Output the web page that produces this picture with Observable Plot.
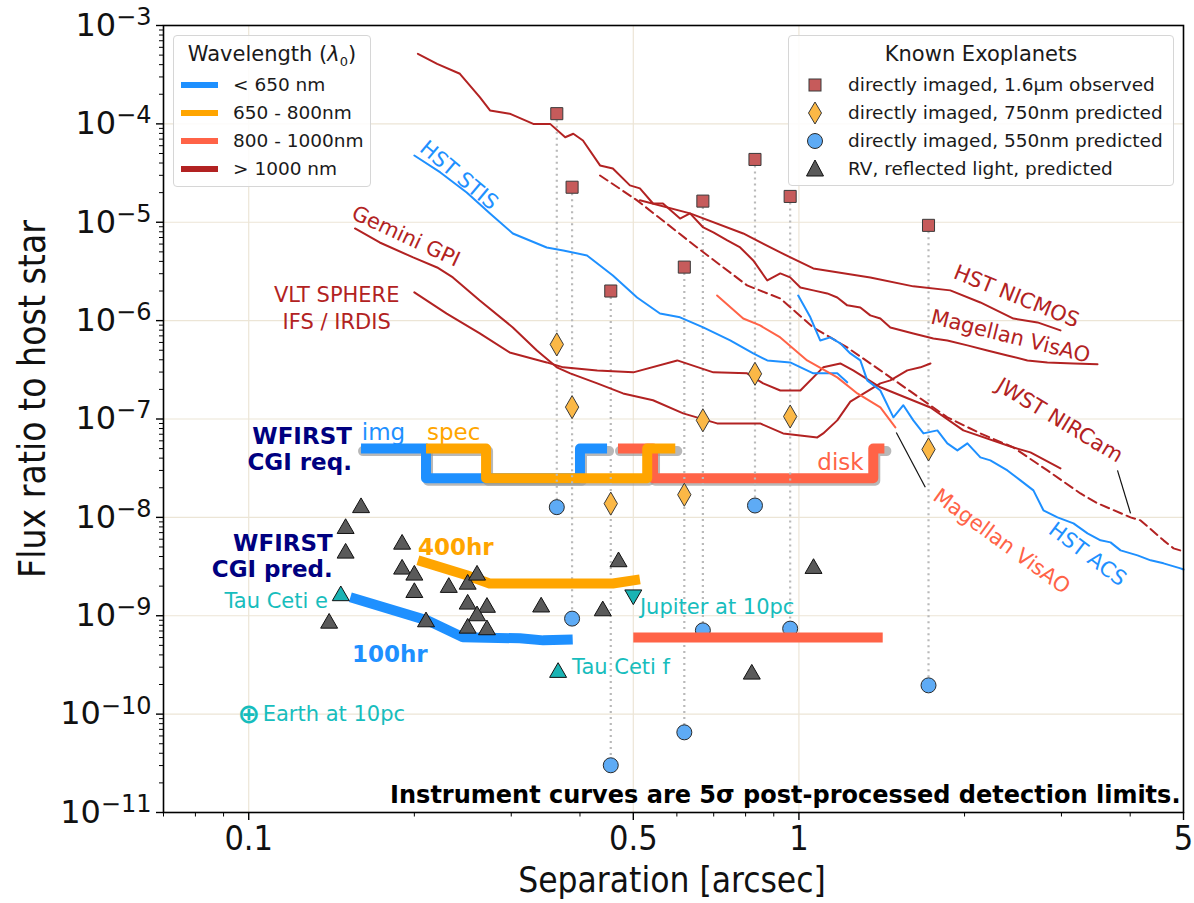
<!DOCTYPE html>
<html><head><meta charset="utf-8">
<script src="https://cdn.jsdelivr.net/npm/d3@7"></script>
<script src="https://cdn.jsdelivr.net/npm/@observablehq/plot@0.6"></script>
<style>
body{margin:0;background:#fff;}
#wrap{position:relative;width:1194px;height:903px;font-family:"DejaVu Sans",sans-serif;overflow:hidden;}
#chart{position:absolute;left:0;top:0;}
.cond{font-family:"DejaVu Sans Condensed","DejaVu Sans",sans-serif;font-stretch:condensed;}
g[aria-label="x-axis tick label"] text{font-family:"DejaVu Sans Condensed","DejaVu Sans",sans-serif;font-stretch:condensed;}
.leg{position:absolute;border:1px solid #d6d6d6;border-radius:4px;background:rgba(255,255,255,0.85);box-sizing:border-box;}
.row{position:absolute;height:28px;line-height:28px;font-size:18.5px;color:#1a1a1a;white-space:nowrap;}
.ttl{position:absolute;left:0;right:0;text-align:center;font-size:21px;color:#1a1a1a;line-height:24px;}
.axt{position:absolute;color:#111;white-space:nowrap;}
</style>
</head><body>
<div id="wrap">
  <div id="chart"></div>
  <div id="leg1" class="leg" style="left:173px;top:35px;width:198px;height:152px">
    <div class="ttl" style="top:6px">Wavelength (<i>λ</i><sub style="font-size:13px">0</sub>)</div>
  </div>
  <div id="leg2" class="leg" style="left:788px;top:35px;width:386px;height:151px">
    <div class="ttl" style="top:6px">Known Exoplanets</div>
  </div>
  <div class="axt cond" style="font-size:37px;left:32px;top:399px;transform:translate(-50%,-50%) rotate(-90deg)">Flux ratio to host star</div>
  <div class="axt cond" style="font-size:35px;left:672px;top:880px;transform:translate(-50%,-50%)">Separation [arcsec]</div>
</div>
<script>
// ---------- tick values ----------
const xMajor = [0.1, 0.5, 1, 5];
const xMinor = [0.07, 0.08, 0.09, 0.2, 0.3, 0.4, 0.6, 0.7, 0.8, 0.9, 2, 3, 4];
const yMajor = [1e-11, 1e-10, 1e-9, 1e-8, 1e-7, 1e-6, 1e-5, 1e-4, 1e-3];

// ---------- legend entries ----------
const wlLabels = ["< 650 nm", "650 - 800nm", "800 - 1000nm", "> 1000 nm"];
const wlColors = ["#1E90FF", "#FFA500", "#FF6347", "#B22222"];
const exoLabels = ["directly imaged, 1.6µm observed", "directly imaged, 750nm predicted", "directly imaged, 550nm predicted", "RV, reflected light, predicted"];

// ---------- instrument curves [sep arcsec, flux ratio] ----------
const visaoIR = [[0.203,5.16e-4],[0.220,4.08e-4],[0.242,3.23e-4],[0.263,1.87e-4],[0.2745,1.37e-4],[0.298,1.27e-4],[0.329,1.0e-4],[0.353,1.0e-4],[0.376,7.32e-5],[0.389,7.93e-5],[0.405,6.78e-5],[0.435,3.78e-5],[0.459,3.52e-5],[0.493,2.37e-5],[0.514,2.21e-5],[0.543,1.55e-5],[0.566,1.55e-5],[0.608,1.09e-5],[0.634,1.23e-5],[0.670,8.85e-6],[0.699,7.88e-6],[0.741,6.53e-6],[0.782,5.54e-6],[0.826,4.09e-6],[0.876,2.56e-6],[0.925,3.02e-6],[0.964,2.75e-6],[1.006,2.17e-6],[1.062,2.03e-6],[1.126,1.89e-6],[1.174,1.72e-6],[1.224,1.43e-6],[1.293,1.36e-6],[1.348,1.13e-6],[1.406,1.05e-6],[1.466,8.53e-7],[1.614,7.41e-7],[1.755,6.59e-7],[1.861,6.29e-7],[2.024,5.6e-7],[2.2,4.98e-7],[2.393,4.43e-7],[2.602,3.94e-7],[2.829,3.76e-7],[3.155,3.67e-7],[3.489,3.6e-7]];
const nicmos = [[0.514,1.67e-5],[0.634,1.23e-5],[0.792,7.69e-6],[0.925,4.93e-6],[1.062,3.39e-6],[1.348,2.75e-6],[1.614,2.23e-6],[1.884,2.03e-6],[2.137,1.53e-6],[2.454,1.05e-6],[2.714,9.59e-7],[2.988,7.95e-7]];
const nircam = [[0.435,2.99e-5],[0.508,1.67e-5],[0.653,5.54e-6],[0.805,2.28e-6],[0.925,1.68e-6],[1.062,8.53e-7],[1.224,5.34e-7],[1.406,3.12e-7],[1.614,1.82e-7],[1.861,1.04e-7],[2.137,7.14e-8],[2.454,5.14e-8],[2.829,3.0e-8],[3.249,1.75e-8],[3.489,1.39e-8],[4.006,1.0e-8],[4.178,9.32e-9],[4.599,5.84e-9],[4.796,4.84e-9],[5.0,4.51e-9]];
const gpi = [[0.156,8.65e-6],[0.173,6.23e-6],[0.199,4.39e-6],[0.220,3.47e-6],[0.235,2.75e-6],[0.263,1.6e-6],[0.302,8.53e-7],[0.334,4.98e-7],[0.363,3.35e-7],[0.384,2.91e-7],[0.430,2.3e-7],[0.479,1.82e-7],[0.543,1.55e-7],[0.616,1.14e-7],[0.710,9.02e-8],[0.850,9.02e-8],[0.936,7.14e-8],[1.08,6.5e-8],[1.107,7.14e-8],[1.174,9.68e-8],[1.24,1.5e-7],[1.406,2.3e-7],[1.466,2.47e-7],[1.574,3.12e-7],[1.663,3.35e-7],[1.734,3.67e-7]];
const sphere = [[0.200,1.94e-6],[0.229,1.18e-6],[0.263,7.41e-7],[0.298,4.75e-7],[0.348,3.76e-7],[0.373,3.35e-7],[0.430,3.12e-7],[0.500,2.98e-7],[0.601,3.94e-7],[0.699,2.98e-7],[0.805,2.91e-7],[0.861,2.3e-7],[0.925,1.95e-7],[1.006,1.95e-7],[1.107,3.35e-7],[1.189,3.67e-7],[1.255,3.12e-7],[1.406,2.1e-7],[1.734,1.31e-7],[1.99,7.66e-8],[2.454,5.14e-8],[2.635,4.58e-8],[2.988,3.15e-8]];
const stis = [[0.200,4.77e-5],[0.223,3.21e-5],[0.249,2.01e-5],[0.2745,1.23e-5],[0.302,7.69e-6],[0.348,5.54e-6],[0.373,5.17e-6],[0.412,4.6e-6],[0.459,2.88e-6],[0.508,1.72e-6],[0.559,1.18e-6],[0.608,1.08e-6],[0.670,8.53e-7],[0.750,6.29e-7],[0.826,4.64e-7],[0.876,3.94e-7],[0.964,3.76e-7],[1.062,2.91e-7],[1.174,2.91e-7],[1.224,2.36e-7]];
const visaoRed = [[0.710,1.8e-6],[0.792,1.05e-6],[0.850,8.94e-7],[0.925,6.75e-7],[1.035,3.94e-7],[1.174,2.65e-7],[1.277,1.82e-7],[1.406,1.31e-7],[1.497,8.22e-8]];
const acs = [[0.997,1.8e-6],[1.049,1.08e-6],[1.093,6.29e-7],[1.14,6.75e-7],[1.189,5.87e-7],[1.24,4.64e-7],[1.293,3.94e-7],[1.331,2.47e-7],[1.406,1.95e-7],[1.485,1.04e-7],[1.548,1.38e-7],[1.614,9.68e-8],[1.684,7.14e-8],[1.785,7.66e-8],[1.861,5.65e-8],[1.941,4.8e-8],[2.024,5.65e-8],[2.137,4.07e-8],[2.228,3.8e-8],[2.393,3.0e-8],[2.527,2.38e-8],[2.668,1.88e-8],[2.782,1.18e-8],[2.951,1.0e-8],[3.155,8.69e-9],[3.346,6.88e-9],[3.533,5.84e-9],[3.684,5.57e-9],[3.842,4.62e-9],[4.125,4.11e-9],[4.357,3.66e-9],[4.599,3.41e-9],[4.938,3.03e-9],[5.0,2.95e-9]];

// ---------- WFIRST CGI requirements & predictions ----------
const reqImg  = [[0.16,5.0e-8],[0.21,5.0e-8],[0.21,2.5e-8],[0.40,2.5e-8],[0.40,5.0e-8],[0.448,5.0e-8]];
const reqDisk = [[0.469,5.0e-8],[0.543,5.0e-8],[0.543,2.5e-8],[1.365,2.5e-8],[1.365,5.0e-8],[1.43,5.0e-8]];
const reqSpec = [[0.21,5.0e-8],[0.27,5.0e-8],[0.27,2.5e-8],[0.53,2.5e-8],[0.53,5.0e-8],[0.596,5.0e-8]];
const pred400 = [[0.203,3.66e-9],[0.249,2.58e-9],[0.274,2.13e-9],[0.379,2.13e-9],[0.459,2.13e-9],[0.514,2.34e-9]];
const pred100 = [[0.153,1.54e-9],[0.211,8.98e-10],[0.245,6.03e-10],[0.311,5.9e-10],[0.343,5.62e-10],[0.388,5.75e-10]];
const predDisk = [[0.50,6.0e-10],[1.42,6.0e-10]];

// ---------- known exoplanets ----------
const diSep  = [0.363, 0.387, 0.455, 0.619, 0.669, 0.832, 0.964, 1.72];
const di1600 = [1.27e-4, 2.27e-5, 2.0e-6, 3.5e-6, 1.64e-5, 4.35e-5, 1.83e-5, 9.3e-6];
const di750  = [5.73e-7, 1.32e-7, 1.38e-8, 1.70e-8, 9.7e-8, 2.88e-7, 1.06e-7, 4.91e-8];
const di550  = [1.27e-8, 9.35e-10, 3.02e-11, 6.53e-11, 7.1e-10, 1.32e-8, 7.4e-10, 1.96e-10];
const rvSep  = [0.160,0.150,0.150,0.190,0.190,0.200,0.200,0.231,0.250,0.260,0.250,0.271,0.260,0.250,0.271,0.210,0.140,0.470,0.340,0.440,1.063,0.821];
const rvFlux = [1.32e-8,8.1e-9,4.55e-9,5.61e-9,3.13e-9,2.72e-9,1.81e-9,2.04e-9,2.2e-9,2.72e-9,1.38e-9,1.28e-9,1.05e-9,7.86e-10,7.57e-10,9.12e-10,8.83e-10,3.72e-9,1.29e-9,1.18e-9,3.18e-9,2.68e-10];
const tauCetiE = [0.147, 1.68e-9];
const tauCetiF = [0.365, 2.79e-10];
const jupiter10 = [0.500, 1.55e-9];
const earth10 = [0.1, 1.0e-10];

// ---------- build ----------
const X = d => d[0], Y = d => d[1];
const di = diSep.map((s, i) => ({s, f16: di1600[i], f75: di750[i], f55: di550[i]}));
const rv = rvSep.map((s, i) => ({s, f: rvFlux[i]}));
const yMinor = [];
for (let e = -11; e < -3; e++) for (let m = 2; m <= 9; m++) yMinor.push(m * Math.pow(10, e));
const yFmt = d => "10^" + Math.round(Math.log10(d));
const lab = (x, y, text, o) => Plot.text([{x, y, text}], {x: "x", y: "y", text: "text", fontSize: 21, ...o});
const ln = (data, stroke, o = {}) => Plot.line(data, {x: X, y: Y, stroke, strokeWidth: 2, ...o});
const thick = (data, stroke) => Plot.line(data, {x: X, y: Y, stroke, strokeWidth: 10, strokeLinejoin: "round", strokeLinecap: "butt"});
const shadow = data => Plot.line(data, {x: X, y: Y, stroke: "#9a9a9a", strokeOpacity: 0.7, strokeWidth: 10, strokeLinejoin: "round", dx: 2, dy: 2.5});
const TEAL = "#17BDBD";

const chart = Plot.plot({
  width: 1194, height: 903,
  marginLeft: 163, marginRight: 11, marginTop: 25, marginBottom: 91,
  x: {type: "log", domain: [0.07, 5]},
  y: {type: "log", domain: [1e-11, 1e-3]},
  style: {fontFamily: "DejaVu Sans, sans-serif", background: "white", overflow: "visible"},
  marks: [
    Plot.gridY(yMajor, {stroke: "#ece5d6", strokeOpacity: 1, strokeWidth: 1.2}),
    Plot.gridX([0.1, 0.5, 1], {stroke: "#ece5d6", strokeOpacity: 1, strokeWidth: 1.2}),
    // requirements
    shadow(reqImg), shadow(reqDisk), shadow(reqSpec),
    thick(reqImg, "#1E90FF"), thick(reqDisk, "#FF6347"), thick(reqSpec, "#FFA500"),
    // dotted connectors
    Plot.link(di, {x1: "s", x2: "s", y1: "f16", y2: "f55", stroke: "#b9b9b9", strokeWidth: 2.2, strokeDasharray: "2 4"}),
    // instrument curves
    ln(gpi, "#B22222"), ln(sphere, "#B22222"),
    ln(nicmos, "#B22222"), ln(visaoIR, "#B22222"),
    ln(nircam, "#B22222", {strokeDasharray: "9 5"}),
    ln(stis, "#1E90FF"), ln(visaoRed, "#FF6347"), ln(acs, "#1E90FF"),
    // leader lines
    Plot.link([{x1: 1.503, y1: 7.3e-8, x2: 1.697, y2: 2.02e-8}, {x1: 3.793, y1: 3.0e-8, x2: 4.006, y2: 1.1e-8}], {x1: "x1", y1: "y1", x2: "x2", y2: "y2", stroke: "#111", strokeWidth: 1.2}),
    // markers
    Plot.dot(di, {x: "s", y: "f55", r: 7.5, fill: "#5EABF5", stroke: "#2b2b2b", strokeWidth: 1}),
    thick(pred400, "#FFA500"), thick(pred100, "#1E90FF"), thick(predDisk, "#FF6347"),
    Plot.dot(di, {x: "s", y: "f16", symbol: "square", r: 6.8, fill: "#C65B5B", stroke: "#3a3a3a", strokeWidth: 1}),
    Plot.dot(di, {x: "s", y: "f75", symbol: "diamond", r: 7, fill: "#FBB846", stroke: "#3a3a3a", strokeWidth: 1}),
    Plot.dot(rv, {x: "s", y: "f", symbol: "triangle", r: 6.3, dy: 2.2, fill: "#5a5a5a", stroke: "#111", strokeWidth: 1}),
    Plot.dot([tauCetiE, tauCetiF], {x: X, y: Y, symbol: "triangle", r: 6.3, dy: 2.2, fill: "#1AB3B3", stroke: "#111", strokeWidth: 1}),
    Plot.dot([jupiter10], {x: X, y: Y, symbol: "triangle", rotate: 180, r: 6.3, dy: -2.2, fill: "#1AB3B3", stroke: "#111", strokeWidth: 1}),
    // instrument labels
    lab(0.241, 2.99e-5, "HST STIS", {fill: "#1E90FF", rotate: 40}),
    lab(0.193, 7.17e-6, "Gemini GPI", {fill: "#B22222", rotate: 25}),
    lab(0.1445, 1.39e-6, "VLT SPHERE\nIFS / IRDIS", {fill: "#B22222", lineHeight: 1.33}),
    lab(2.485, 1.76e-6, "HST NICMOS", {fill: "#B22222", rotate: 22}),
    lab(2.424, 6.91e-7, "Magellan VisAO", {fill: "#B22222", rotate: 14}),
    lab(2.976, 9.68e-8, "JWST NIRCam", {fill: "#B22222", rotate: 31}),
    lab(2.335, 5.7e-9, "Magellan VisAO", {fill: "#FF6347", rotate: 36}),
    lab(3.346, 4.2e-9, "HST ACS", {fill: "#1E90FF", rotate: 37}),
    // WFIRST labels
    lab(0.154, 4.95e-8, "WFIRST\nCGI req.", {fill: "#000080", fontWeight: "bold", fontSize: 23, textAnchor: "end", lineHeight: 1.13}),
    lab(0.1605, 7.31e-8, "img", {fill: "#1E90FF", fontSize: 23, textAnchor: "start"}),
    lab(0.2108, 7.31e-8, "spec", {fill: "#FFA500", fontSize: 23, textAnchor: "start"}),
    lab(1.08, 3.62e-8, "disk", {fill: "#FF6347", fontSize: 23, textAnchor: "start"}),
    lab(0.1421, 4.11e-9, "WFIRST\nCGI pred.", {fill: "#000080", fontWeight: "bold", fontSize: 23, textAnchor: "end", lineHeight: 1.13}),
    lab(0.203, 4.95e-9, "400hr", {fill: "#FFA500", fontWeight: "bold", fontSize: 23, textAnchor: "start"}),
    lab(0.154, 4.05e-10, "100hr", {fill: "#1E90FF", fontWeight: "bold", fontSize: 23, textAnchor: "start"}),
    // planet labels
    lab(0.1393, 1.40e-9, "Tau Ceti e", {fill: TEAL, textAnchor: "end"}),
    lab(0.387, 2.99e-10, "Tau Ceti f", {fill: TEAL, textAnchor: "start"}),
    lab(0.514, 1.22e-9, "Jupiter at 10pc", {fill: TEAL, textAnchor: "start"}),
    lab(earth10[0], earth10[1], "⊕", {fill: TEAL, fontSize: 27, fontWeight: "bold"}),
    lab(earth10[0], earth10[1], "Earth at 10pc", {fill: TEAL, textAnchor: "start", dx: 14}),
    Plot.text(["Instrument curves are 5σ post-processed detection limits."], {frameAnchor: "bottom-right", dx: -3, dy: -10, fontSize: 24, fontWeight: "bold", fill: "#000"}),
    // axes
    Plot.axisY(yMajor, {tickSize: 7, tickPadding: 5, fontSize: 32, tickFormat: yFmt, label: null, strokeWidth: 1.4, fill: "#111"}),
    Plot.axisY(yMinor, {tickSize: 4, tickFormat: () => "", label: null, strokeWidth: 1}),
    Plot.axisX(xMajor, {tickSize: 8, tickPadding: 5, fontSize: 34, tickFormat: d => String(d), label: null, strokeWidth: 1.4, fill: "#111"}),
    Plot.axisX(xMinor, {tickSize: 4.5, tickFormat: () => "", label: null, strokeWidth: 1}),
    Plot.frame({stroke: "#000", strokeWidth: 1.6})
  ]
});
document.getElementById("chart").appendChild(chart);

// power-of-ten tick labels with real superscripts
chart.querySelectorAll('g[aria-label="y-axis tick label"] text').forEach(t => {
  const m = t.textContent.match(/^10\^(-?\d+)$/);
  if (!m) return;
  const ns = "http://www.w3.org/2000/svg";
  t.textContent = "";
  const base = document.createElementNS(ns, "tspan");
  base.textContent = "10";
  const sup = document.createElementNS(ns, "tspan");
  sup.textContent = m[1].replace("-", "\u2212");
  sup.setAttribute("dy", "-0.45em");
  sup.setAttribute("font-size", "24");
  t.appendChild(base); t.appendChild(sup);
});

// ---------- legends ----------
const leg1 = document.getElementById("leg1");
wlLabels.forEach((t, i) => {
  const cy = 49 + 28 * i;
  const sw = document.createElement("div");
  sw.style.cssText = `position:absolute;left:7px;top:${cy - 3}px;width:37px;height:6px;background:${wlColors[i]}`;
  leg1.appendChild(sw);
  const r = document.createElement("div");
  r.className = "row"; r.style.left = "59px"; r.style.top = (cy - 14) + "px"; r.textContent = t;
  leg1.appendChild(r);
});
const leg2 = document.getElementById("leg2");
const shapes = [
  '<rect x="6" y="6" width="12" height="12" fill="#C65B5B" stroke="#3a3a3a"/>',
  '<path d="M12 1 L18.5 12 L12 23 L5.5 12 Z" fill="#FBB846" stroke="#3a3a3a"/>',
  '<circle cx="12" cy="12" r="7.5" fill="#5EABF5" stroke="#2b2b2b"/>',
  '<path d="M12 3 L20.5 19 L3.5 19 Z" fill="#5a5a5a" stroke="#111"/>'
];
exoLabels.forEach((t, i) => {
  const cy = 49 + 28 * i;
  const s = document.createElement("div");
  s.style.cssText = `position:absolute;left:14px;top:${cy - 12}px;width:24px;height:24px`;
  s.innerHTML = `<svg width="24" height="24">${shapes[i]}</svg>`;
  leg2.appendChild(s);
  const r = document.createElement("div");
  r.className = "row"; r.style.left = "59px"; r.style.top = (cy - 14) + "px"; r.textContent = t;
  leg2.appendChild(r);
});
</script>
</body></html>
